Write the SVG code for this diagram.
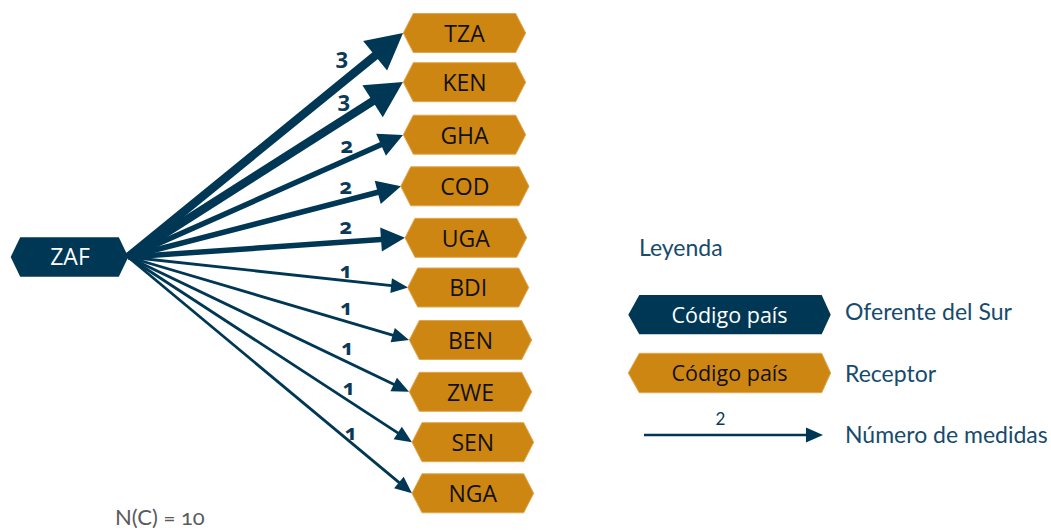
<svg xmlns="http://www.w3.org/2000/svg" width="1051" height="530" viewBox="0 0 1051 530">
<style>
.bg{fill:#ffffff}
.src{fill:#003755}
.rcv{fill:#CE8612;stroke:#e0a650;stroke-width:1}
.ntxt{font-family:"Open Sans","Noto Sans",sans-serif;font-size:23px;text-anchor:middle;fill:#111111}
.stxt{font-family:"Open Sans","Noto Sans",sans-serif;font-size:23px;text-anchor:middle;fill:#ffffff}
.ltxt{font-family:"Open Sans","Noto Sans",sans-serif;font-size:21.5px;text-anchor:middle}
.edge{stroke:#003755;fill:none;stroke-linecap:butt}
.w3{stroke-width:8.5}
.w2{stroke-width:5.5}
.w1{stroke-width:2.8}
.elab{font-family:"Noto Sans","Open Sans",sans-serif;font-weight:700;font-size:22px;fill:#0b3a58;text-anchor:middle;font-variant-numeric:oldstyle-nums;font-feature-settings:"onum" 1}
.leg{font-family:Lato,"Noto Sans",sans-serif;font-size:23px;fill:#174b6d}
.nc{font-family:Lato,"Noto Sans",sans-serif;font-size:22px;fill:#5a5a5a;font-variant-numeric:oldstyle-nums;font-feature-settings:"onum" 1}
</style>
<defs>
<marker id="h3" markerUnits="userSpaceOnUse" markerWidth="36" markerHeight="38" refX="10.8" refY="19" orient="auto" overflow="visible"><path d="M0,0 L36,19 L0,38 Z" fill="#003755"/></marker>
<marker id="h2" markerUnits="userSpaceOnUse" markerWidth="24" markerHeight="24" refX="7.2" refY="12" orient="auto" overflow="visible"><path d="M0,0 L24,12 L0,24 Z" fill="#003755"/></marker>
<marker id="h1" markerUnits="userSpaceOnUse" markerWidth="17" markerHeight="15" refX="5.1" refY="7.5" orient="auto" overflow="visible"><path d="M0,0 L17,7.5 L0,15 Z" fill="#003755"/></marker>
<marker id="hl" markerUnits="userSpaceOnUse" markerWidth="17" markerHeight="15" refX="3" refY="7.5" orient="auto" overflow="visible"><path d="M0,0 L17,7.5 L0,15 Z" fill="#003755"/></marker>
</defs>
<rect class="bg" x="0" y="0" width="1051" height="530"/>

<g id="connectors">
<line class="edge w3" x1="128" y1="257" x2="383.5" y2="48.9" marker-end="url(#h3)"/>
<line class="edge w3" x1="128" y1="257" x2="381.7" y2="95.5" marker-end="url(#h3)"/>
<line class="edge w2" x1="128" y1="257" x2="387.6" y2="141.8" marker-end="url(#h2)"/>
<line class="edge w2" x1="128" y1="257" x2="384.7" y2="190.5" marker-end="url(#h2)"/>
<line class="edge w2" x1="128" y1="257" x2="388.2" y2="239" marker-end="url(#h2)"/>
<line class="edge w1" x1="128" y1="257" x2="396.2" y2="286.2" marker-end="url(#h1)"/>
<line class="edge w1" x1="128" y1="257" x2="397.6" y2="336.6" marker-end="url(#h1)"/>
<line class="edge w1" x1="128" y1="257" x2="398.3" y2="386.6" marker-end="url(#h1)"/>
<line class="edge w1" x1="128" y1="257" x2="402" y2="435.7" marker-end="url(#h1)"/>
<line class="edge w1" x1="128" y1="257" x2="402.8" y2="485.7" marker-end="url(#h1)"/>
<text class="elab" x="342" y="64">3</text>
<text class="elab" x="344" y="107">3</text>
<text class="elab" x="347" y="153">2</text>
<text class="elab" x="346" y="194">2</text>
<text class="elab" x="346" y="234">2</text>
<text class="elab" x="346" y="278">1</text>
<text class="elab" x="346.5" y="315">1</text>
<text class="elab" x="347.5" y="355">1</text>
<text class="elab" x="349" y="395">1</text>
<text class="elab" x="351" y="440">1</text>
</g>

<g id="node-ZAF">
<polygon class="src" points="10.7,257 20.2,237.3 118.8,237.3 128.3,257 118.8,276.7 20.2,276.7"/>
<text class="stxt" x="70" y="265">ZAF</text>
</g>
<g id="node-TZA">
<polygon class="rcv" points="403.3,33 413.3,13.5 515.7,13.5 525.7,33 515.7,52.5 413.3,52.5"/>
<text class="ntxt" x="464.5" y="42">TZA</text>
</g>
<g id="node-KEN">
<polygon class="rcv" points="403.3,82.2 413.3,62.7 515.7,62.7 525.7,82.2 515.7,101.7 413.3,101.7"/>
<text class="ntxt" x="464.5" y="91">KEN</text>
</g>
<g id="node-GHA">
<polygon class="rcv" points="403.3,134.7 413.3,115.2 515.7,115.2 525.7,134.7 515.7,154.2 413.3,154.2"/>
<text class="ntxt" x="464.5" y="143.5">GHA</text>
</g>
<g id="node-COD">
<polygon class="rcv" points="400.7,186.3 410.7,166.8 519,166.8 529,186.3 519,205.8 410.7,205.8"/>
<text class="ntxt" x="464.8" y="195">COD</text>
</g>
<g id="node-UGA">
<polygon class="rcv" points="405,237.8 415,218.3 516.7,218.3 526.7,237.8 516.7,257.3 415,257.3"/>
<text class="ntxt" x="465.8" y="246.5">UGA</text>
</g>
<g id="node-BDI">
<polygon class="rcv" points="407.7,287.5 417.7,268 518.7,268 528.7,287.5 518.7,307 417.7,307"/>
<text class="ntxt" x="468.2" y="296">BDI</text>
</g>
<g id="node-BEN">
<polygon class="rcv" points="409.3,340 419.3,320.5 521.7,320.5 531.7,340 521.7,359.5 419.3,359.5"/>
<text class="ntxt" x="470.5" y="348.5">BEN</text>
</g>
<g id="node-ZWE">
<polygon class="rcv" points="409.3,391.8 419.3,372.3 521.7,372.3 531.7,391.8 521.7,411.3 419.3,411.3"/>
<text class="ntxt" x="470.5" y="400.5">ZWE</text>
</g>
<g id="node-SEN">
<polygon class="rcv" points="412,442.2 422,422.7 523.7,422.7 533.7,442.2 523.7,461.7 422,461.7"/>
<text class="ntxt" x="472.8" y="451">SEN</text>
</g>
<g id="node-NGA">
<polygon class="rcv" points="412,493.3 422,473.8 523.7,473.8 533.7,493.3 523.7,512.8 422,512.8"/>
<text class="ntxt" x="472.8" y="502">NGA</text>
</g>

<g id="legend">
<text class="leg" x="639" y="256">Leyenda</text>
<g id="legend-source">
<polygon class="src" points="628.3,314.7 639.3,295 821.7,295 830.7,314.7 821.7,334.3 639.3,334.3"/>
<text class="ltxt" x="729.5" y="322.5" fill="#ffffff">Código país</text>
</g>
<text class="leg" x="845" y="320">Oferente del Sur</text>
<g id="legend-receiver">
<polygon class="rcv" points="628.3,373 639.3,353.3 821.7,353.3 830.7,373 821.7,392.7 639.3,392.7"/>
<text class="ltxt" x="729.5" y="381" fill="#111111">Código país</text>
</g>
<text class="leg" x="845" y="381.5">Receptor</text>
<g id="legend-edge">
<line class="edge" stroke-width="2.6" x1="644" y1="435" x2="809" y2="435" marker-end="url(#hl)"/>
<text x="720.5" y="425" font-family="Lato,'Noto Sans',sans-serif" font-size="17" fill="#0b3a58" text-anchor="middle">2</text>
</g>
<text class="leg" x="845" y="442.5">Número de medidas</text>
</g>

<text class="nc" x="115" y="525">N(C) = 10</text>
</svg>
